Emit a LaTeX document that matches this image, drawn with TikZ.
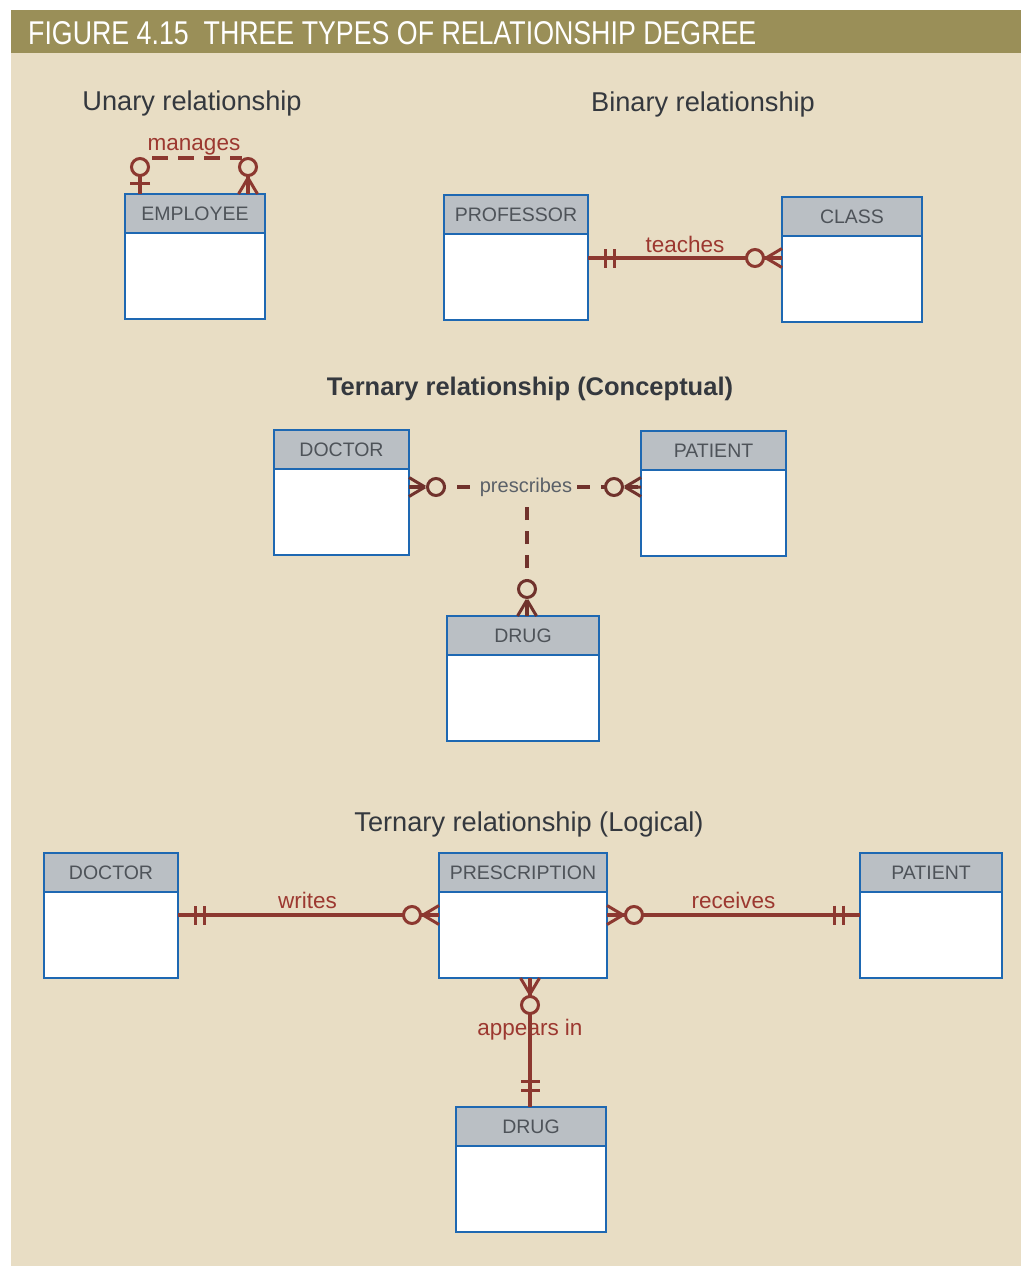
\documentclass[tikz,border=0pt]{standalone}
\usepackage{fontspec}
\usepackage{graphicx}
\setmainfont{Liberation Sans}
\usetikzlibrary{calc,positioning}

\definecolor{bandcol}{RGB}{154,143,88}
\definecolor{bgcol}{RGB}{232,221,196}
\definecolor{headcol}{RGB}{186,191,196}
\definecolor{boxline}{RGB}{30,104,178}
\definecolor{relcol}{RGB}{140,56,48}
\definecolor{concol}{RGB}{112,50,44}
\definecolor{labcol}{RGB}{156,56,48}
\definecolor{textcol}{RGB}{52,56,62}
\definecolor{entcol}{RGB}{78,83,89}
\definecolor{preccol}{RGB}{90,96,104}

\begin{document}
\begin{tikzpicture}[
  x=1pt, y=-1pt,
  heading/.style={anchor=base, text=textcol, inner sep=0pt, font=\fontsize{27.2}{30}\selectfont},
  head/.style={draw=boxline, fill=headcol, line width=2.5pt, outer sep=0pt, inner sep=0pt,
    minimum height=39pt, text=entcol, font=\fontsize{19.5}{19.5}\selectfont},
  body/.style={draw=boxline, fill=white, line width=2.5pt, outer sep=0pt, inner sep=0pt, minimum height=86pt},
  rel/.style={draw=relcol, line width=3.4pt},
  reldash/.style={rel, dash pattern=on 16pt off 10pt},
  relcon/.style={draw=concol, line width=3.4pt, dash pattern=on 13pt off 11pt},
  rlab/.style={anchor=base, text=labcol, inner sep=0pt, font=\fontsize{22.5}{22.5}\selectfont},
  zmany/.pic={
    \draw[line width=3pt] (-16,0) -- (0,-9.5) (-16,0) -- (0,0) (-16,0) -- (0,9.5);
    \draw[line width=3pt, fill=bgcol] (-27,0) circle (8.5pt);},
  zone/.pic={
    \draw[line width=3pt] (-11,-10) -- (-11,10);
    \draw[line width=3pt, fill=bgcol] (-27,0) circle (8.5pt);},
  oone/.pic={
    \draw[line width=3pt] (-17,-9.5) -- (-17,9.5) (-26,-9.5) -- (-26,9.5);}
]
\useasboundingbox (0,0) rectangle (1021,1266);
\fill[bgcol] (11,10) rectangle (1021,1266);
\fill[bandcol] (11,10) rectangle (1021,53);
\node[anchor=base west, text=white, inner sep=0pt] (title) at (28,44)
  {\resizebox{728pt}{23pt}{FIGURE 4.15\ \ THREE TYPES OF RELATIONSHIP DEGREE}};

% headings
\node[heading] (hunary) at (192,110) {Unary relationship};
\node[heading] (hbinary) at (703,111) {Binary relationship};
\node[heading, font=\bfseries\fontsize{25.5}{28}\selectfont] (hconcept) at (530,395) {Ternary relationship (Conceptual)};
\node[heading] (hlogical) at (529,831) {Ternary relationship (Logical)};

% entities
\node[head, minimum width=140pt] (emp) at (195,213.5) {EMPLOYEE};
\node[body, minimum width=140pt, below=0pt of emp] (emp-b) {};
\node[head, minimum width=144pt] (prof) at (516,214.5) {PROFESSOR};
\node[body, minimum width=144pt, below=0pt of prof] (prof-b) {};
\node[head, minimum width=140pt] (cls) at (852,216.5) {CLASS};
\node[body, minimum width=140pt, below=0pt of cls] (cls-b) {};

\node[head, minimum width=135pt] (doc1) at (341.5,449.5) {DOCTOR};
\node[body, minimum width=135pt, below=0pt of doc1] (doc1-b) {};
\node[head, minimum width=145pt] (pat1) at (713.5,450.5) {PATIENT};
\node[body, minimum width=145pt, below=0pt of pat1] (pat1-b) {};
\node[head, minimum width=152pt] (drug1) at (523,635.5) {DRUG};
\node[body, minimum width=152pt, below=0pt of drug1] (drug1-b) {};

\node[head, minimum width=134pt] (doc2) at (111,872.5) {DOCTOR};
\node[body, minimum width=134pt, below=0pt of doc2] (doc2-b) {};
\node[head, minimum width=168pt] (presc) at (523,872.5) {PRESCRIPTION};
\node[body, minimum width=168pt, below=0pt of presc] (presc-b) {};
\node[head, minimum width=142pt] (pat2) at (931,872.5) {PATIENT};
\node[body, minimum width=142pt, below=0pt of pat2] (pat2-b) {};
\node[head, minimum width=150pt] (drug2) at (531,1126.5) {DRUG};
\node[body, minimum width=150pt, below=0pt of drug2] (drug2-b) {};

% unary: manages
\coordinate (u1) at ($(emp.north west)+(15,0)$);
\coordinate (u2) at ($(emp.north east)+(-17,0)$);
\draw[rel] (u1) -- ++(0,-36) coordinate (u1t);
\draw[rel] (u2) -- (u2 |- u1t) coordinate (u2t);
\draw[reldash] ($(u1t)+(12,0)$) -- ($(u2t)+(-6,0)$);
\pic[relcol, rotate=-90] at (u1) {zone};
\pic[relcol, rotate=-90] at (u2) {zmany};
\node[rlab] (manages) at ($(u1t)!.5!(u2t)+(0,-8)$) {manages};

% binary: teaches
\coordinate (t1) at ($(prof-b.north east)+(0,24)$);
\coordinate (t2) at (t1 -| cls-b.west);
\draw[rel] (t1) -- (t2);
\pic[relcol, rotate=180] at (t1) {oone};
\pic[relcol] at (t2) {zmany};
\node[rlab] (teaches) at ($(t1)!.5!(t2)+(0,-6)$) {teaches};

% ternary conceptual: prescribes
\coordinate (p1) at ($(doc1-b.north east)+(0,18)$);
\coordinate (p2) at (p1 -| pat1-b.west);
\coordinate (p3) at ($(drug1.north)+(4,0)$);
\draw[relcon] (p1) -- (p2);
\draw[relcon] (p3) -- (p3 |- p1);
\pic[concol, rotate=180] at (p1) {zmany};
\pic[concol] at (p2) {zmany};
\pic[concol, rotate=-90] at (p3) {zmany};
\node[fill=bgcol, text=preccol, inner xsep=2pt, inner ysep=1pt, font=\fontsize{20}{20}\selectfont] (prescribes)
  at ($(p1)!.5!(p2)+(1,0)$) {prescribes};

% ternary logical
\coordinate (w1) at ($(doc2-b.north east)+(0,23)$);
\coordinate (w2) at (w1 -| presc-b.west);
\draw[rel] (w1) -- (w2);
\pic[relcol, rotate=180] at (w1) {oone};
\pic[relcol] at (w2) {zmany};
\node[rlab] (writes) at ($(w1)!.5!(w2)+(-1,-7)$) {writes};

\coordinate (r1) at ($(presc-b.north east)+(0,23)$);
\coordinate (r2) at (r1 -| pat2-b.west);
\draw[rel] (r1) -- (r2);
\pic[relcol, rotate=180] at (r1) {zmany};
\pic[relcol] at (r2) {oone};
\node[rlab] (receives) at ($(r1)!.5!(r2)+(0,-7)$) {receives};

\coordinate (a1) at ($(presc-b.south)+(7,0)$);
\coordinate (a2) at (a1 |- drug2.north);
\node[rlab] (appears) at ($(a1)+(0,57)$) {appears in};
\draw[rel] (a1) -- (a2);
\pic[relcol, rotate=90] at (a1) {zmany};
\pic[relcol, rotate=-90] at (a2) {oone};
\end{tikzpicture}
\end{document}
